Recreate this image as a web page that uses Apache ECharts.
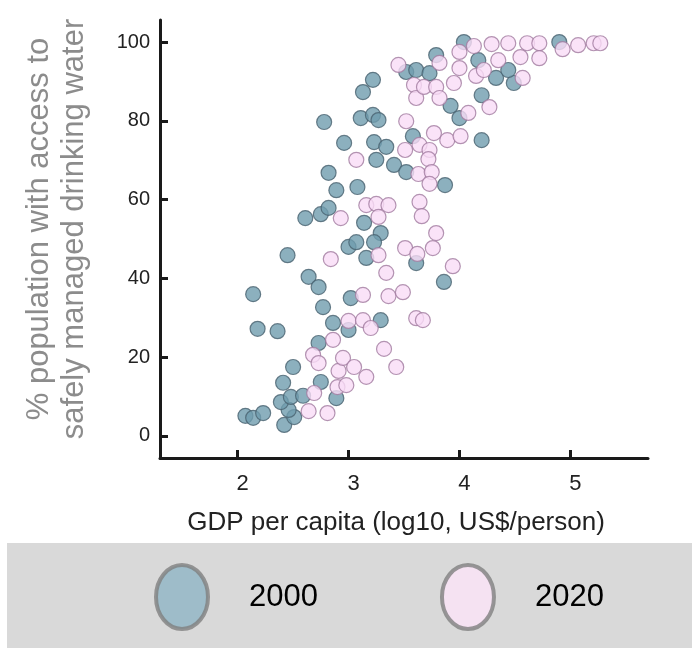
<!DOCTYPE html>
<html>
<head>
<meta charset="utf-8">
<script src="https://cdn.jsdelivr.net/npm/echarts@6/dist/echarts.min.js"></script>
<style>
  html, body { margin: 0; padding: 0; background: #fff; }
  #chart { width: 692px; height: 648px; }
</style>
</head>
<body>
<div id="chart"></div>
<script>
// values: x = log10 GDP per capita, y = % with safe water
const gdp2000 = [2.07, 2.14, 2.23, 2.42, 2.51, 2.46, 2.39, 2.48, 2.59, 2.89,
  2.41, 2.75, 2.50, 2.73, 2.86, 3.00, 3.02, 3.29, 2.14, 2.18,
  2.36, 2.64, 2.73, 2.77, 2.45, 3.00, 3.07, 3.16, 2.61, 2.75,
  2.82, 3.14, 3.29, 3.23, 2.82, 2.89, 3.08, 3.25, 3.41, 3.52,
  2.96, 3.23, 3.34, 2.78, 3.11, 3.22, 3.27, 3.22, 3.13, 3.52,
  3.61, 3.73, 3.79, 3.92, 3.58, 3.61, 3.86, 3.87, 4.00, 4.20,
  4.20, 4.04, 4.17, 4.33, 4.49, 4.44, 4.90];
const access2000 = [5.1, 4.6, 5.8, 2.8, 4.8, 6.6, 8.6, 9.9, 10.2, 9.6,
  13.5, 13.7, 17.5, 23.6, 28.7, 26.9, 35.0, 29.4, 36.0, 27.2,
  26.6, 40.4, 37.8, 32.7, 45.9, 48.0, 49.2, 45.2, 55.3, 56.3,
  57.9, 54.1, 51.5, 49.2, 66.8, 62.4, 63.2, 70.1, 68.8, 67.0,
  74.4, 74.6, 73.4, 79.7, 80.7, 81.5, 80.2, 90.4, 87.3, 92.4,
  92.9, 92.1, 96.7, 83.8, 76.1, 43.9, 39.1, 63.7, 80.7, 86.5,
  75.1, 100, 95.4, 90.9, 89.6, 92.9, 100];

const gdp2020 = [2.64, 2.81, 2.69, 2.90, 2.98, 2.91, 2.68, 2.73, 2.95, 3.05,
  3.16, 2.86, 3.32, 3.43, 3.00, 3.13, 3.20, 3.13, 3.36, 3.49,
  3.34, 3.27, 2.84, 3.51, 3.62, 3.76, 3.79, 3.94, 3.61, 3.67,
  2.93, 3.16, 3.25, 3.36, 3.27, 3.64, 3.66, 3.07, 3.51, 3.64,
  3.63, 3.73, 3.72, 3.75, 3.73, 3.77, 3.89, 4.01, 3.52, 3.45,
  3.59, 3.61, 3.68, 3.79, 3.82, 3.82, 4.00, 4.00, 4.13, 4.29,
  4.44, 4.61, 4.72, 4.93, 5.07, 5.21, 5.27, 4.35, 4.55, 4.57,
  4.15, 3.95, 4.08, 4.27, 4.72, 4.22];
const access2020 = [6.3, 5.8, 10.9, 12.4, 12.9, 16.5, 20.6, 18.5, 19.8, 17.5,
  15.0, 24.4, 22.1, 17.5, 29.2, 29.4, 27.4, 35.8, 35.5, 36.5,
  41.4, 45.9, 44.9, 47.7, 46.2, 47.7, 51.5, 43.1, 29.9, 29.4,
  55.3, 58.6, 58.9, 58.6, 55.6, 59.4, 55.8, 70.1, 72.6, 73.9,
  66.5, 72.6, 70.3, 67.0, 64.0, 76.9, 75.1, 76.1, 79.9, 94.2,
  89.1, 85.8, 88.6, 88.6, 85.8, 94.7, 97.5, 93.4, 99.0, 99.5,
  99.7, 99.7, 99.7, 98.2, 99.2, 99.7, 99.7, 95.4, 96.2, 90.9,
  91.4, 89.6, 82.0, 83.5, 95.9, 92.9];

const xTicks = [2, 3, 4, 5];
const yTicks = [0, 20, 40, 60, 80, 100];

const zip = (xs, ys) => xs.map((x, i) => [x, ys[i]]);

const chart = echarts.init(document.getElementById('chart'));
// slightly tall oval, like the legend markers in the picture
const oval = 'path://M0,32 A26,32 0 1,1 52,32 A26,32 0 1,1 0,32 Z';
const axisFont = "'Liberation Sans', Arial, sans-serif";

chart.setOption({
  animation: false,
  backgroundColor: '#fff',
  grid: { left: 160, right: 44, top: 20, bottom: 190 },
  graphic: [{
    type: 'rect',
    z: 0,
    shape: { x: 7, y: 543, width: 685, height: 105 },
    style: { fill: '#d9d9d9' }
  }],
  legend: {
    left: 154,
    top: 563,
    padding: 0,
    itemWidth: 52,
    itemHeight: 64,
    itemGap: 122,
    icon: oval,
    itemStyle: { borderColor: '#808080', borderWidth: 4 },
    textStyle: {
      fontSize: 31, color: '#000', fontFamily: axisFont,
      padding: [0, 0, 0, 36]
    },
    data: [
      { name: '2000', itemStyle: { color: '#8fb4c4' } },
      { name: '2020', itemStyle: { color: '#fbe3f8' } }
    ]
  },
  xAxis: {
    type: 'value',
    min: 1.3,
    max: 5.7,
    splitLine: { show: false },
    axisLine: { onZero: false, lineStyle: { color: '#1a1a1a', width: 3 } },
    axisTick: { inside: true, length: 8, lineStyle: { width: 3, color: '#1a1a1a' }, customValues: xTicks },
    axisLabel: {
      customValues: xTicks, fontSize: 22, color: '#222', margin: 15, fontFamily: axisFont,
      padding: [0, 0, 0, 10]
    },
    name: 'GDP per capita (log10, US$/person)',
    nameLocation: 'middle',
    nameGap: 52,
    nameTextStyle: { fontSize: 26, color: '#222', fontFamily: axisFont, padding: [0, 16, 0, 0] }
  },
  yAxis: {
    type: 'value',
    min: -5.6,
    max: 105.6,
    splitLine: { show: false },
    axisLine: { lineStyle: { color: '#1a1a1a', width: 3 } },
    axisTick: { inside: true, length: 8, lineStyle: { width: 3, color: '#1a1a1a' }, customValues: yTicks },
    axisLabel: { customValues: yTicks, fontSize: 20, color: '#222', margin: 10, fontFamily: axisFont },
    name: '% population with access to\nsafely managed drinking water',
    nameLocation: 'middle',
    nameRotate: 90,
    nameGap: 68,
    nameTextStyle: {
      fontSize: 31, color: '#8c8c8c', lineHeight: 35, fontFamily: axisFont,
      padding: [0, 0, 0, 20]
    }
  },
  series: [
    {
      name: '2000',
      type: 'scatter',
      symbolSize: 15,
      itemStyle: { color: '#6f9cae', borderColor: '#48626f', borderWidth: 1.2 },
      data: zip(gdp2000, access2000)
    },
    {
      name: '2020',
      type: 'scatter',
      symbolSize: 15,
      itemStyle: { color: '#f9dcf6', borderColor: '#a07a9f', borderWidth: 1.2 },
      data: zip(gdp2020, access2020)
    }
  ]
});
</script>
</body>
</html>
